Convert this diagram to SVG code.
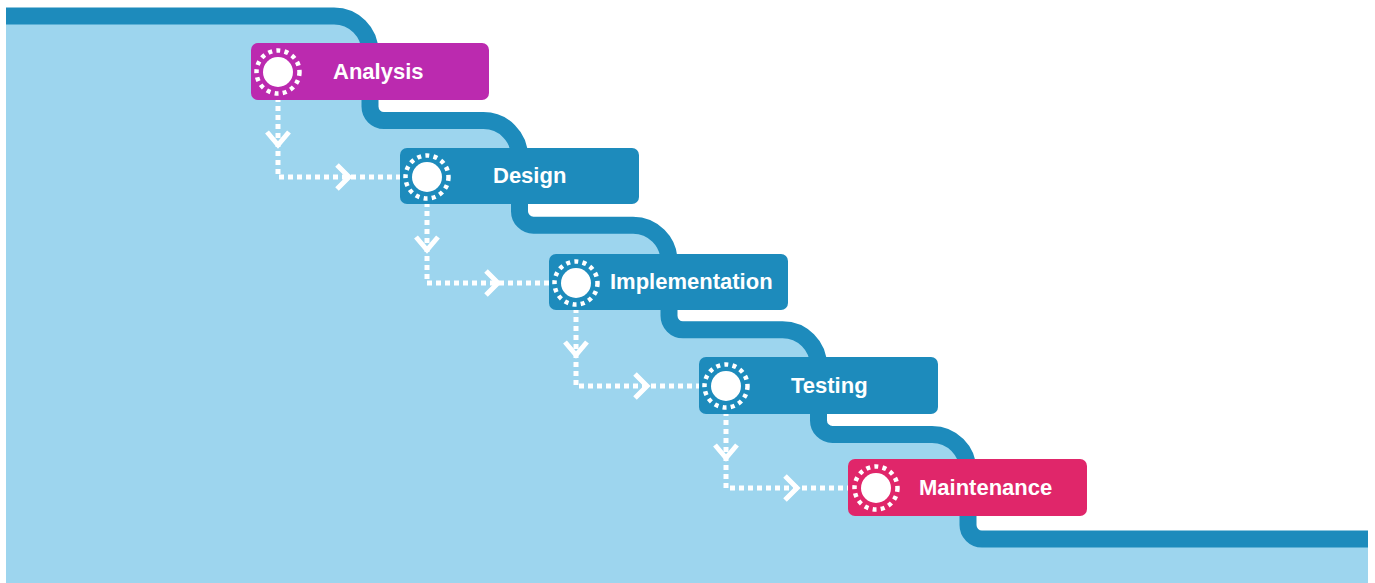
<svg xmlns="http://www.w3.org/2000/svg" width="1375" height="583" viewBox="0 0 1375 583">
<defs>
<style>
.bg{fill:#9dd5ee;stroke:none}
.stair{fill:none;stroke:#1d8bbc;stroke-width:17;stroke-linejoin:round}
.box{stroke:none}
.blue{fill:#1d8bbc}
.mag{fill:#bb2aaf}
.pink{fill:#e0266a}
.dot{fill:#ffffff}
.ring{fill:none;stroke:#ffffff;stroke-width:4.5;stroke-dasharray:4 4.25}
.lbl{font-family:"Liberation Sans",Arial,sans-serif;font-weight:bold;font-size:22px;fill:#ffffff}
.flow{fill:none;stroke:#ffffff;stroke-width:5;stroke-dasharray:5 4}
.chev{fill:none;stroke:#ffffff;stroke-width:5;stroke-linecap:butt;stroke-linejoin:miter}
</style>
</defs>
<rect x="0" y="0" width="1375" height="583" fill="#ffffff"/>
<path class="bg" d="M6,16 H334 A36 36 0 0 1 370 52 V106.6 A14 14 0 0 0 384 120.6 H483.5 A36 36 0 0 1 519.5 156.6 V211.2 A14 14 0 0 0 533.5 225.2 H633 A36 36 0 0 1 669 261.2 V315.8 A14 14 0 0 0 683 329.8 H782.5 A36 36 0 0 1 818.5 365.8 V420.4 A14 14 0 0 0 832.5 434.4 H932 A36 36 0 0 1 968 470.4 V525 A14 14 0 0 0 982 539 H1368 V583 H6 Z"/>
<path class="stair" d="M6,16 H334 A36 36 0 0 1 370 52 V106.6 A14 14 0 0 0 384 120.6 H483.5 A36 36 0 0 1 519.5 156.6 V211.2 A14 14 0 0 0 533.5 225.2 H633 A36 36 0 0 1 669 261.2 V315.8 A14 14 0 0 0 683 329.8 H782.5 A36 36 0 0 1 818.5 365.8 V420.4 A14 14 0 0 0 832.5 434.4 H932 A36 36 0 0 1 968 470.4 V525 A14 14 0 0 0 982 539 H1368"/>
<g id="connectors">
<path class="flow" d="M278,97 V177 H402"/>
<polyline class="chev" points="267,132 278,145 289,132"/>
<polyline class="chev" points="337,165 349,177 337,189"/>
<path class="flow" d="M427,202 V283 H551"/>
<polyline class="chev" points="416,237 427,250 438,237"/>
<polyline class="chev" points="486,271 498,283 486,295"/>
<path class="flow" d="M576,308 V386 H700"/>
<polyline class="chev" points="565,342 576,355 587,342"/>
<polyline class="chev" points="635,374 647,386 635,398"/>
<path class="flow" d="M726,411 V488 H850"/>
<polyline class="chev" points="715,445 726,458 737,445"/>
<polyline class="chev" points="785,476 797,488 785,500"/>
</g>
<g id="analysis">
<rect class="box mag" x="251" y="43" width="238" height="57" rx="7"/>
<circle class="dot" cx="278" cy="72" r="15"/>
<circle class="ring" cx="278" cy="72" r="21.5"/>
<text class="lbl" x="333" y="79">Analysis</text>
</g>
<g id="design">
<rect class="box blue" x="400" y="148" width="239" height="56" rx="7"/>
<circle class="dot" cx="427" cy="177" r="15"/>
<circle class="ring" cx="427" cy="177" r="21.5"/>
<text class="lbl" x="493" y="183">Design</text>
</g>
<g id="implementation">
<rect class="box blue" x="549" y="254" width="239" height="56" rx="7"/>
<circle class="dot" cx="576" cy="283" r="15"/>
<circle class="ring" cx="576" cy="283" r="21.5"/>
<text class="lbl" x="610" y="289">Implementation</text>
</g>
<g id="testing">
<rect class="box blue" x="699" y="357" width="239" height="57" rx="7"/>
<circle class="dot" cx="726" cy="386" r="15"/>
<circle class="ring" cx="726" cy="386" r="21.5"/>
<text class="lbl" x="791" y="393">Testing</text>
</g>
<g id="maintenance">
<rect class="box pink" x="848" y="459" width="239" height="57" rx="7"/>
<circle class="dot" cx="876" cy="488" r="15"/>
<circle class="ring" cx="876" cy="488" r="21.5"/>
<text class="lbl" x="919" y="495">Maintenance</text>
</g>
</svg>
